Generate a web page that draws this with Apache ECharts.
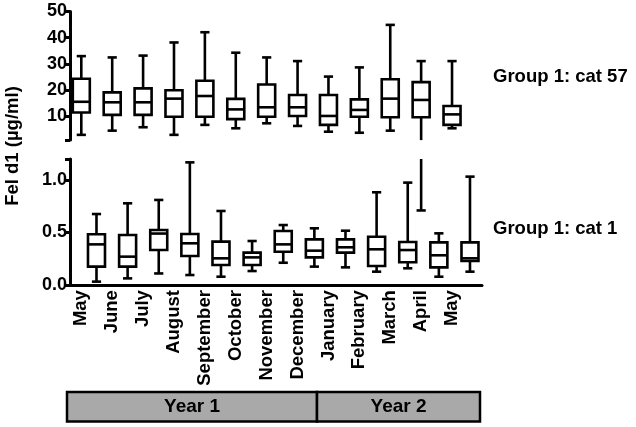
<!DOCTYPE html>
<html><head><meta charset="utf-8">
<script src="https://cdn.jsdelivr.net/npm/echarts@6/dist/echarts.min.js"></script>
<style>html,body{margin:0;padding:0;background:#fff}#c{width:636px;height:427px}</style>
</head><body><div id="c"></div>
<script>
// Categories
const months = ['May','June','July','August','September','October','November','December','January','February','March','April','May'];
const years = ['Year 1', 'Year 2'];
// Group 1: cat 57 (µg/ml) box statistics
const cat57Min    = [3.0, 4.6, 5.9, 3.0, 6.8, 5.5, 7.4, 6.4, 4.2, 3.8, 4.6, 0.71, 5.5];
const cat57Q1     = [11.5, 10.6, 10.6, 9.9, 9.9, 9.0, 9.9, 10.2, 6.8, 9.9, 9.7, 9.7, 6.8];
const cat57Median = [15.6, 15.4, 15.4, 16.8, 17.8, 12.7, 13.5, 13.5, 10.2, 12.5, 16.8, 16.3, 10.8];
const cat57Q3     = [24.4, 19.2, 20.7, 20.0, 23.6, 16.7, 22.2, 18.2, 18.2, 16.5, 24.2, 23.1, 14.0];
const cat57Max    = [33.0, 32.5, 33.2, 38.2, 42.1, 34.3, 32.5, 31.1, 25.2, 28.7, 44.9, 31.1, 31.1];
// Group 1: cat 1 (µg/ml) box statistics
const cat1Min    = [0.032, 0.063, 0.11, 0.095, 0.079, 0.133, 0.212, 0.175, 0.168, 0.127, 0.159, 0.079, 0.127];
const cat1Q1     = [0.175, 0.175, 0.333, 0.276, 0.19, 0.19, 0.317, 0.263, 0.308, 0.181, 0.216, 0.168, 0.229];
const cat1Median = [0.387, 0.27, 0.49, 0.397, 0.254, 0.263, 0.387, 0.327, 0.359, 0.34, 0.333, 0.283, 0.254];
const cat1Q3     = [0.483, 0.476, 0.524, 0.486, 0.413, 0.308, 0.514, 0.435, 0.435, 0.46, 0.41, 0.406, 0.406];
const cat1Max    = [0.676, 0.778, 0.81, 1.168, 0.705, 0.419, 0.571, 0.54, 0.517, 0.883, 0.975, 0.492, 1.032];
// Tick labels
const topTicks = [10, 20, 30, 40, 50];
const bottomTicks = [0.0, 0.5, 1.0];
const topAxisMin = 1, topAxisMax = 50;
const botAxisMin = 0, botAxisMax = 1.2;

const FONT = 'Liberation Sans, Arial, sans-serif';
const rows57 = months.map((m, i) => [i, cat57Min[i], cat57Q1[i], cat57Median[i], cat57Q3[i], cat57Max[i]]);
const rows1 = months.map((m, i) => [i, cat1Min[i], cat1Q1[i], cat1Median[i], cat1Q3[i], cat1Max[i]]);
const overflow57 = [];
cat57Min.forEach((v, i) => { if (v < topAxisMin) overflow57.push([i, v]); });

const BW = 8.5, CW = 4.6, LW = 2.6;
const lineStyle = {stroke: '#000', lineWidth: LW, fill: null};

function boxRenderer(axisMin) {
  return function (params, api) {
    const x = api.value(0);
    const mn = api.value(1), q1 = api.value(2), md = api.value(3), q3 = api.value(4), mx = api.value(5);
    const c = val => api.coord([x, val]);
    const cx = c(md)[0];
    const clamped = mn < axisMin;
    const yMin = c(Math.max(mn, axisMin))[1];
    const yQ1 = c(q1)[1], yMd = c(md)[1], yQ3 = c(q3)[1], yMax = c(mx)[1];
    const ch = [
      {type: 'line', shape: {x1: cx, y1: yMax, x2: cx, y2: yQ3}, style: lineStyle},
      {type: 'line', shape: {x1: cx, y1: yQ1, x2: cx, y2: yMin}, style: lineStyle},
      {type: 'line', shape: {x1: cx - CW, y1: yMax, x2: cx + CW, y2: yMax}, style: lineStyle},
      {type: 'rect', shape: {x: cx - BW, y: yQ3, width: 2 * BW, height: yQ1 - yQ3}, style: {fill: '#fff', stroke: '#000', lineWidth: LW}},
      {type: 'line', shape: {x1: cx - BW, y1: yMd, x2: cx + BW, y2: yMd}, style: lineStyle}
    ];
    if (!clamped) ch.push({type: 'line', shape: {x1: cx - CW, y1: yMin, x2: cx + CW, y2: yMin}, style: lineStyle});
    return {type: 'group', children: ch};
  };
}
function overflowRenderer(params, api) {
  const x = api.value(0), v = api.value(1);
  const top = api.coord([x, botAxisMax]);
  const bot = api.coord([x, v]);
  return {type: 'group', children: [
    {type: 'line', shape: {x1: top[0], y1: top[1], x2: bot[0], y2: bot[1]}, style: lineStyle},
    {type: 'line', shape: {x1: bot[0] - CW, y1: bot[1], x2: bot[0] + CW, y2: bot[1]}, style: lineStyle}
  ]};
}

const axisLineStyle = {color: '#000', width: 3};
const labelStyle = {color: '#000', fontWeight: 'bold', fontSize: 18, fontFamily: FONT};
const hidden = {axisLine: {show: false}, axisTick: {show: false}, axisLabel: {show: false}, splitLine: {show: false}};

const chart = echarts.init(document.getElementById('c'), null, {renderer: 'canvas'});
chart.setOption({
  animation: false,
  backgroundColor: '#fff',
  grid: [
    {left: 70, width: 412, top: 11.5, height: 128.6},
    {left: 70, width: 412, top: 159, height: 126},
    {left: 70, width: 412, top: 159, height: 126}
  ],
  xAxis: [
    {type: 'value', gridIndex: 0, min: -0.366, max: 12.97, offset: 145,
     axisLine: {show: false, onZero: false}, axisTick: {show: false}, splitLine: {show: false},
     axisLabel: Object.assign({customValues: months.map((m, i) => i), formatter: v => months[Math.round(v)], rotate: 90, margin: 5}, labelStyle, {fontSize: 18.5})},
    {type: 'value', gridIndex: 1, min: -0.851, max: 12.386,
     axisLine: {show: true, onZero: false, lineStyle: axisLineStyle}, axisTick: {show: false}, axisLabel: {show: false}, splitLine: {show: false}},
    Object.assign({type: 'value', gridIndex: 2, min: -0.366, max: 12.97}, hidden)
  ],
  yAxis: [
    {type: 'value', gridIndex: 0, min: topAxisMin, max: topAxisMax,
     axisLine: {show: true, onZero: false, lineStyle: axisLineStyle},
     axisTick: {show: true, length: 5, lineStyle: {color: '#000', width: 3}, customValues: [topAxisMin].concat(topTicks)},
     axisLabel: Object.assign({customValues: topTicks, margin: 3}, labelStyle),
     splitLine: {show: false}},
    {type: 'value', gridIndex: 1, min: botAxisMin, max: botAxisMax,
     axisLine: {show: true, onZero: false, lineStyle: axisLineStyle},
     axisTick: {show: true, length: 5, lineStyle: {color: '#000', width: 3}, customValues: bottomTicks.concat([botAxisMax])},
     axisLabel: Object.assign({customValues: bottomTicks, margin: 3, formatter: v => v.toFixed(1)}, labelStyle),
     splitLine: {show: false}},
    Object.assign({type: 'value', gridIndex: 2, min: botAxisMin, max: botAxisMax}, hidden, {axisLine: {show: false, onZero: false}})
  ],
  series: [
    {type: 'custom', name: 'Group 1: cat 57', xAxisIndex: 0, yAxisIndex: 0, data: rows57,
     encode: {x: 0, y: [1, 2, 3, 4, 5]}, renderItem: boxRenderer(topAxisMin)},
    {type: 'custom', name: 'Group 1: cat 1', xAxisIndex: 1, yAxisIndex: 1, data: rows1,
     encode: {x: 0, y: [1, 2, 3, 4, 5]}, renderItem: boxRenderer(botAxisMin)},
    {type: 'custom', name: 'cat 57 overflow', xAxisIndex: 2, yAxisIndex: 2, data: overflow57,
     encode: {x: 0, y: 1}, renderItem: overflowRenderer}
  ],
  graphic: [
    {type: 'text', x: 13, y: 146, rotation: Math.PI / 2,
     style: {text: 'Fel d1 (µg/ml)', fill: '#000', font: 'bold 18.5px ' + FONT, textAlign: 'center', textVerticalAlign: 'middle'}},
    {type: 'text', x: 493, y: 77,
     style: {text: 'Group 1: cat 57', fill: '#000', font: 'bold 18.5px ' + FONT, textAlign: 'left', textVerticalAlign: 'middle'}},
    {type: 'text', x: 493, y: 229,
     style: {text: 'Group 1: cat 1', fill: '#000', font: 'bold 18.5px ' + FONT, textAlign: 'left', textVerticalAlign: 'middle'}},
    {type: 'rect', shape: {x: 67, y: 392, width: 250, height: 29.5}, style: {fill: '#a9a9a9', stroke: '#000', lineWidth: 2.5}},
    {type: 'rect', shape: {x: 317, y: 392, width: 163, height: 29.5}, style: {fill: '#a9a9a9', stroke: '#000', lineWidth: 2.5}},
    {type: 'text', x: 192, y: 407,
     style: {text: years[0], fill: '#000', font: 'bold 19px ' + FONT, textAlign: 'center', textVerticalAlign: 'middle'}},
    {type: 'text', x: 398.5, y: 407,
     style: {text: years[1], fill: '#000', font: 'bold 19px ' + FONT, textAlign: 'center', textVerticalAlign: 'middle'}}
  ]
});
</script></body></html>
